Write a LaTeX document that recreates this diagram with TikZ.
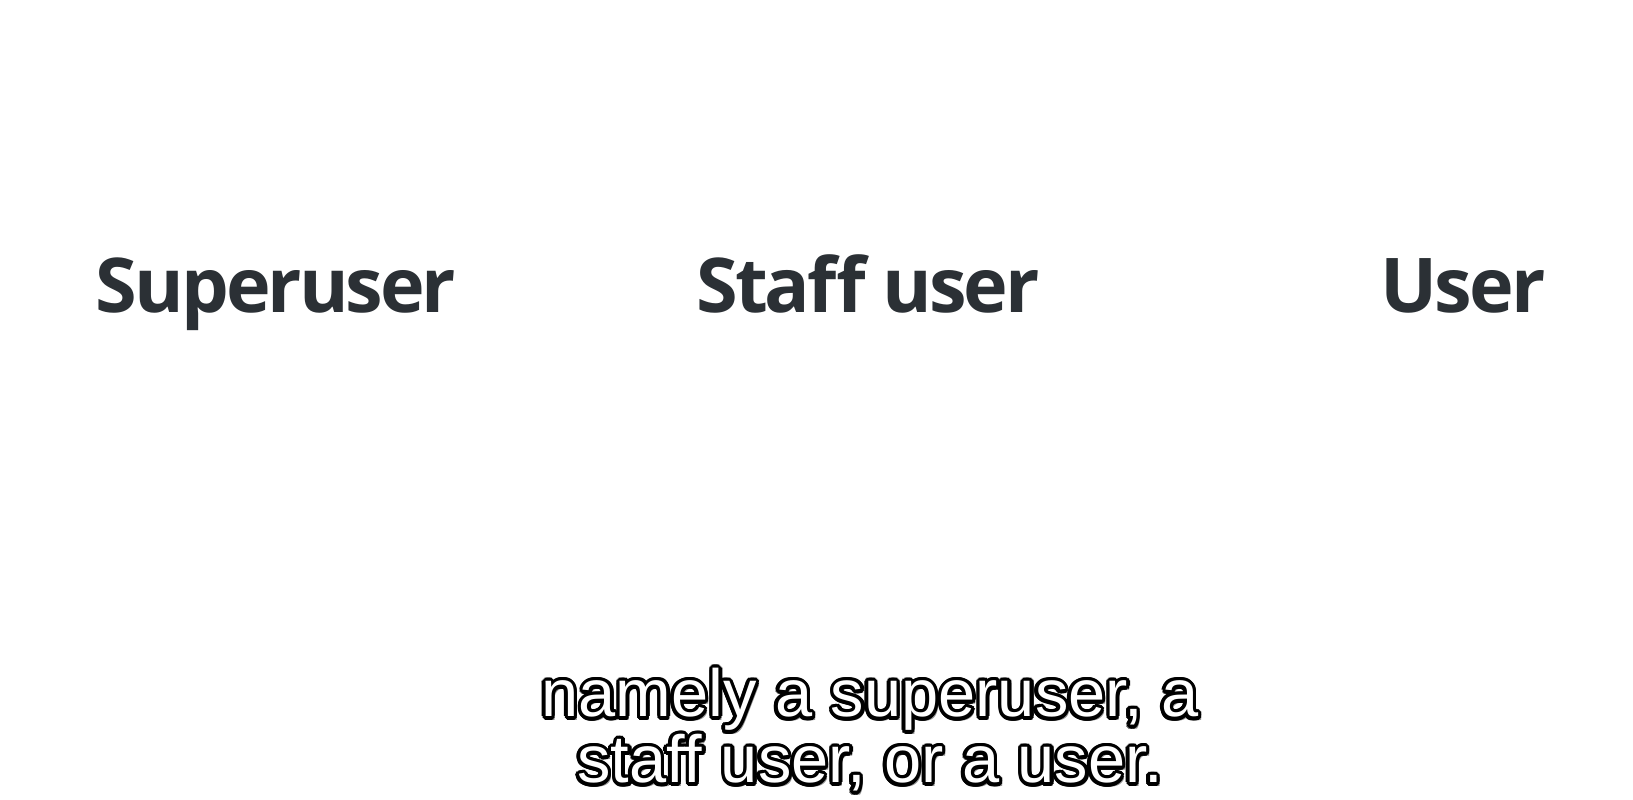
\documentclass[tikz,border=0pt]{standalone}
\usepackage{fontspec}
\setmainfont{Open Sans}
\newfontfamily\rolefont[LetterSpace=-4]{Open Sans}
\newfontfamily\capfont{Liberation Sans}
\usetikzlibrary{calc}
\definecolor{labelcolor}{HTML}{2B3035}
\definecolor{shadowcolor}{HTML}{8A8A8A}

\begin{document}
\begin{tikzpicture}[
  role/.style={
    font=\rolefont\fontsize{21.5}{26}\selectfont\bfseries,
    text=labelcolor,
    anchor=base,
    inner sep=0pt,
  },
  caption/.style={
    font=\capfont\fontsize{19}{23}\selectfont,
    anchor=base,
    inner sep=0pt,
  }
  ]

  \path[use as bounding box, fill=white] (0,0) rectangle (16.33,8);

  \node[role] (superuser) at (2.76,4.87) {Superuser};
  \node[role] (staffuser) at (8.68,4.87) {Staff user};
  \node[role] (user) at (14.63,4.87) {User};

  % outlined caption with drop shadow
  \foreach \row/\ypos/\txt in {1/0.83/{namely a superuser, a}, 2/0.17/{staff user, or a user.}} {
    \node[caption, text=shadowcolor] (shadow\row) at (8.73,\ypos-0.04) {\txt};
    \foreach \a in {0,22.5,...,337.5}
      \node[caption, text=black] (outline\row) at ($(8.70,\ypos)+(\a:0.035)$) {\txt};
    \node[caption, text=white] (caption\row) at (8.70,\ypos) {\txt};
  }

\end{tikzpicture}
\end{document}
